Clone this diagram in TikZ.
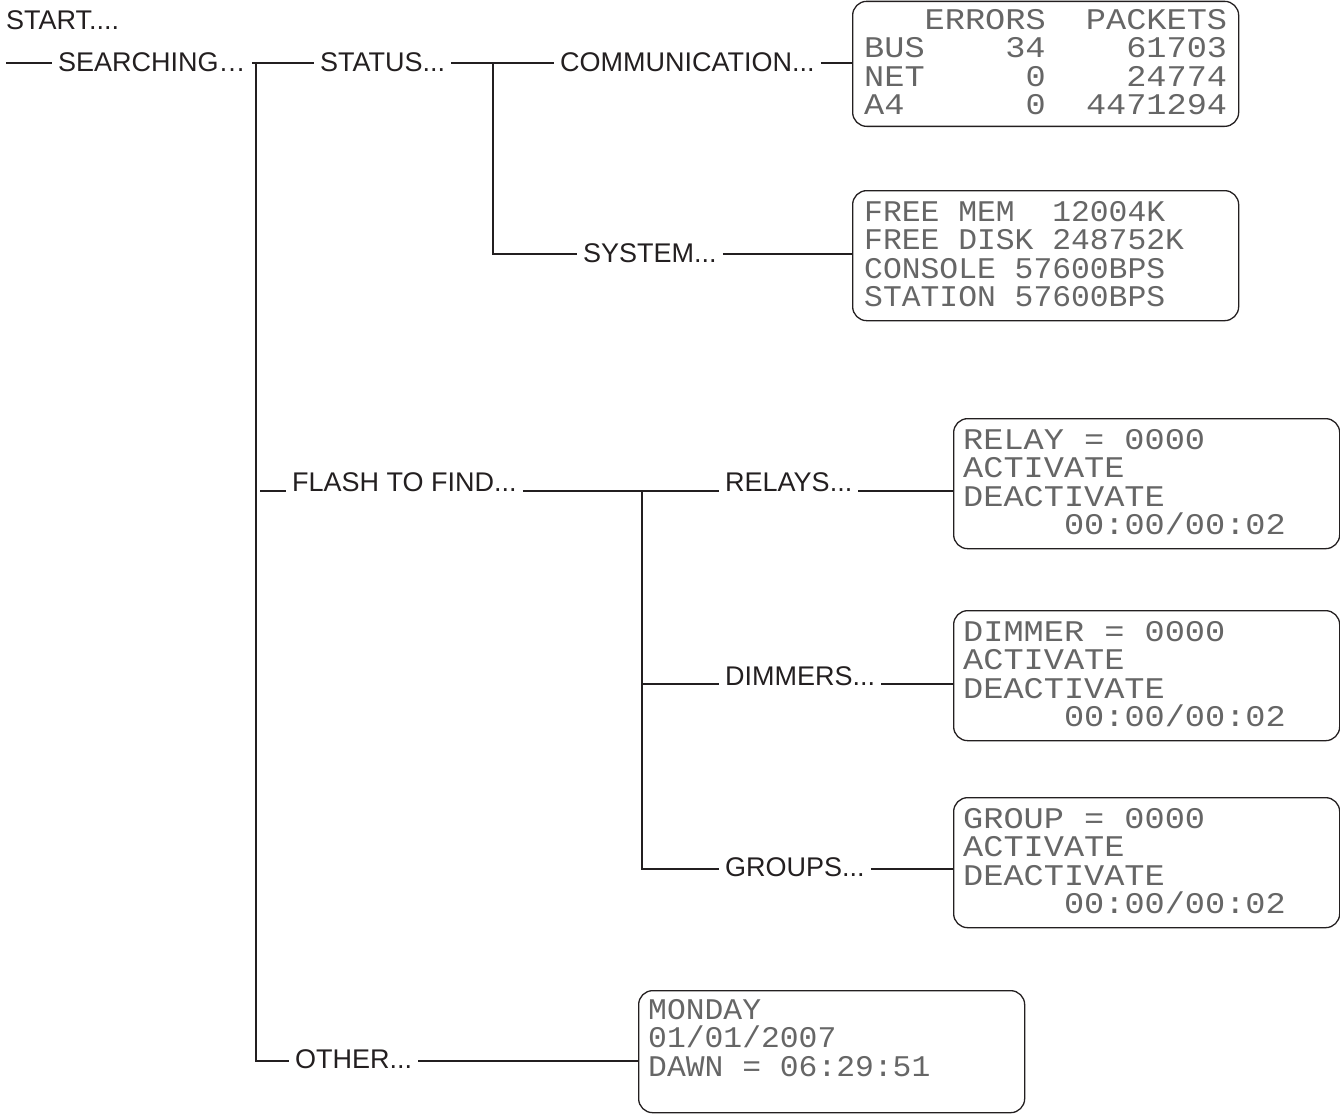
\documentclass[tikz,border=0pt]{standalone}
\usepackage{fontspec}
\setmainfont{Liberation Sans}
\newfontfamily\lcdfont[FakeStretch=1.12]{Liberation Mono}
\newfontfamily\lcdnarrow[FakeStretch=1.045]{Liberation Mono}
\definecolor{ink}{HTML}{231F20}
\tikzset{
  lbl/.style={anchor=base west, inner xsep=6pt, inner ysep=0pt,
    font=\fontsize{27}{30}\selectfont, text=ink},
  wire/.style={line width=2pt, draw=ink},
  lcdbox/.style={draw=ink, line width=1.3pt, rounded corners=14pt,
    minimum width=386pt, minimum height=130pt, anchor=north west, inner sep=0pt},
  lcd/.style={anchor=north west, inner sep=0pt, align=left,
    font=\lcdfont\fontsize{30}{28.5}\selectfont, text=black!60},
  lcdn/.style={lcd, font=\lcdnarrow\fontsize{30}{28.5}\selectfont},
}
\begin{document}
\begin{tikzpicture}[x=1pt,y=-1pt]
\useasboundingbox (0,0) rectangle (1340,1114);

% labels
\node[lbl] (start) at (0,29) {START....};
\node[lbl] (searching) at (52,71) {SEARCHING…};
\node[lbl] (status) at (314,71) {STATUS...};
\node[lbl] (comm) at (554,71) {COMMUNICATION...};
\node[lbl] (system) at (577,262) {SYSTEM...};
\node[lbl] (flash) at (286,491) {FLASH TO FIND...};
\node[lbl] (relays) at (719,491) {RELAYS...};
\node[lbl] (dimmers) at (719,685) {DIMMERS...};
\node[lbl] (groups) at (719,876) {GROUPS...};
\node[lbl] (other) at (289,1068) {OTHER...};

% display boxes
\node[lcdbox, minimum height=125pt] (commbox) at (852,0.7) {};
\node[lcd] (commtxt) at (864,9)
  {\phantom{000}ERRORS~~PACKETS\\
   BUS~~~~34~~~~61703\\
   NET~~~~~0~~~~24774\\
   A4~~~~~~0~~4471294};
\node[lcdbox] (sysbox) at (852,190) {};
\node[lcdn] (systxt) at (864,201)
  {FREE~MEM~~12004K\\
   FREE~DISK~248752K\\
   CONSOLE~57600BPS\\
   STATION~57600BPS};
\node[lcdbox] (relbox) at (953,418) {};
\node[lcd] (reltxt) at (963,429)
  {RELAY~=~0000\\
   ACTIVATE\\
   DEACTIVATE\\
   \phantom{00000}00:00/00:02};
\node[lcdbox] (dimbox) at (953,610) {};
\node[lcd] (dimtxt) at (963,621)
  {DIMMER~=~0000\\
   ACTIVATE\\
   DEACTIVATE\\
   \phantom{00000}00:00/00:02};
\node[lcdbox] (grpbox) at (953,797) {};
\node[lcd] (grptxt) at (963,808)
  {GROUP~=~0000\\
   ACTIVATE\\
   DEACTIVATE\\
   \phantom{00000}00:00/00:02};
\node[lcdbox, minimum height=122pt] (othbox) at (638,990) {};
\node[lcdn] (othtxt) at (648,999)
  {MONDAY\\
   01/01/2007\\
   DAWN~=~06:29:51};

% junction coordinates
\coordinate (r1s) at (6,63);
\coordinate (j1) at (256,63);
\coordinate (o1) at (256,1061);
\coordinate (j2) at (493,63);
\coordinate (j2b) at (493,254);
\coordinate (f0) at (260,491);
\coordinate (j3) at (642,491);
\coordinate (j3d) at (642,684);
\coordinate (j3g) at (642,869);

% connectors
\draw[wire] (r1s) -- (searching.west |- r1s);
\draw[wire] (searching.east |- j1) -- (status.west |- j1);
\draw[wire] (j1) -- (o1) -- (other.west |- o1);
\draw[wire] (other.east |- o1) -- (othbox.west |- o1);
\draw[wire] (status.east |- j2) -- (comm.west |- j2);
\draw[wire] (comm.east |- j2) -- (commbox.west |- j2);
\draw[wire] (j2) -- (j2b) -- (system.west |- j2b);
\draw[wire] (system.east |- j2b) -- (sysbox.west |- j2b);
\draw[wire] (f0) -- (flash.west |- f0);
\draw[wire] (flash.east |- j3) -- (relays.west |- j3);
\draw[wire] (relays.east |- j3) -- (relbox.west |- j3);
\draw[wire] (j3) -- (j3g) -- (groups.west |- j3g);
\draw[wire] (j3d) -- (dimmers.west |- j3d);
\draw[wire] (dimmers.east |- j3d) -- (dimbox.west |- j3d);
\draw[wire] (groups.east |- j3g) -- (grpbox.west |- j3g);
\end{tikzpicture}
\end{document}
